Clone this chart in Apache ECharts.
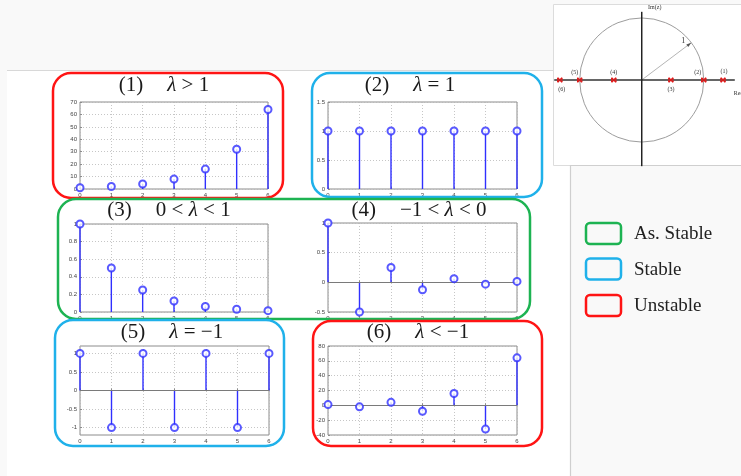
<!DOCTYPE html>
<html>
<head>
<meta charset="utf-8">
<script src="https://cdn.jsdelivr.net/npm/echarts@6/dist/echarts.min.js"></script>
<style>
html,body{margin:0;padding:0;background:#f9f9f9;}
#c{width:741px;height:476px;}
</style>
</head>
<body>
<div id="c"></div>
<script>
// Sample index n for every impulse response x[n] = λ^n
const nIdx = [0, 1, 2, 3, 4, 5, 6];

// Responses for the six cases of λ
const resp1 = [1, 2, 4, 8, 16, 32, 64];                              // λ > 1
const resp2 = [1, 1, 1, 1, 1, 1, 1];                                 // λ = 1
const resp3 = [1, 0.5, 0.25, 0.125, 0.0625, 0.03125, 0.015625];      // 0 < λ < 1
const resp4 = [1, -0.5, 0.25, -0.125, 0.0625, -0.03125, 0.015625];   // -1 < λ < 0
const resp5 = [1, -1, 1, -1, 1, -1, 1];                              // λ = -1
const resp6 = [1, -2, 4, -8, 16, -32, 64];                           // λ < -1

// Y-axis ranges and tick values
const yRange1 = [0, 70];    const yTicks1 = [0, 10, 20, 30, 40, 50, 60, 70];
const yRange2 = [0, 1.5];   const yTicks2 = [0, 0.5, 1, 1.5];
const yRange3 = [0, 1];     const yTicks3 = [0, 0.2, 0.4, 0.6, 0.8, 1];
const yRange4 = [-0.5, 1];  const yTicks4 = [-0.5, 0, 0.5, 1];
const yRange5 = [-1.2, 1.2];const yTicks5 = [-1, -0.5, 0, 0.5, 1];
const yRange6 = [-40, 80];  const yTicks6 = [-40, -20, 0, 20, 40, 60, 80];
const xTicks = [0, 1, 2, 3, 4, 5, 6];

// Panel titles (number, text before λ, relation after λ)
const titleNum = ['(1)', '(2)', '(3)', '(4)', '(5)', '(6)'];
const titlePre = ['', '', '0 < ', '−1 < ', '', ''];
const titlePost = [' > 1', ' = 1', ' < 1', ' < 0', ' = −1', ' < −1'];

// Poles on the real axis of the z-plane, with their labels
const poleRe = [1.31, 1.0, 0.47, -0.45, -1.0, -1.32];
const poleLabel = ['(1)', '(2)', '(3)', '(4)', '(5)', '(6)'];
const radiusAngleDeg = 37;

// Legend entries
const legendNames = ['As. Stable', 'Stable', 'Unstable'];

const RED = '#ff1414', BLUE = '#1fb1ea', GREEN = '#1db352';
const STEM = '#3030ff';

const responses = [resp1, resp2, resp3, resp4, resp5, resp6];
const yRanges = [yRange1, yRange2, yRange3, yRange4, yRange5, yRange6];
const yTickSets = [yTicks1, yTicks2, yTicks3, yTicks4, yTicks5, yTicks6];

// Plot areas and title anchors of the six panels
const panelLayout = [
  { grid: { left: 80,  top: 102, width: 188, height: 87 }, title: [164, 85] },
  { grid: { left: 328, top: 102, width: 189, height: 87 }, title: [410, 85] },
  { grid: { left: 80,  top: 224, width: 188, height: 88 }, title: [169, 210] },
  { grid: { left: 328, top: 223, width: 189, height: 89 }, title: [419, 210] },
  { grid: { left: 80,  top: 346, width: 189, height: 89 }, title: [172, 332] },
  { grid: { left: 328, top: 346, width: 189, height: 89 }, title: [418, 332] }
];

const chart = echarts.init(document.getElementById('c'), null, { renderer: 'canvas' });

const grids = [], xAxes = [], yAxes = [], series = [];
const labelStyle = { fontSize: 6, color: '#444', fontFamily: 'Liberation Sans' };
const gridLine = { show: true, lineStyle: { type: [1, 2], color: '#b8b8b8', width: 0.8 } };

for (let i = 0; i < 6; i++) {
  const L = panelLayout[i].grid;
  grids.push(Object.assign({ show: true, borderColor: '#8c8c8c', borderWidth: 1, backgroundColor: '#fff' }, L));
  xAxes.push({
    gridIndex: i, type: 'value', min: xTicks[0], max: xTicks[xTicks.length - 1], interval: 1,
    axisLine: { show: false },
    axisTick: { show: true, inside: true, length: 2, lineStyle: { color: '#8c8c8c' } },
    axisLabel: Object.assign({ margin: 3 }, labelStyle),
    splitLine: gridLine
  });
  yAxes.push({
    gridIndex: i, type: 'value', min: yRanges[i][0], max: yRanges[i][1],
    axisLine: { show: false },
    axisTick: { show: true, inside: true, length: 2, lineStyle: { color: '#8c8c8c' }, customValues: yTickSets[i] },
    axisLabel: Object.assign({ margin: 3, customValues: yTickSets[i] }, labelStyle),
    splitLine: gridLine
  });
  const pts = nIdx.map((n, k) => [n, responses[i][k]]);
  const hasNeg = yRanges[i][0] < 0;
  series.push({
    type: 'bar', xAxisIndex: i, yAxisIndex: i, data: pts, barWidth: 1.4, silent: true,
    itemStyle: { color: STEM },
    markLine: hasNeg ? {
      silent: true, symbol: 'none', animation: false,
      lineStyle: { color: '#7a7a7a', type: 'solid', width: 1 },
      label: { show: false }, data: [{ yAxis: 0 }]
    } : undefined
  });
  series.push({
    type: 'scatter', xAxisIndex: i, yAxisIndex: i, data: pts, symbol: 'emptyCircle', symbolSize: 7,
    clip: false, silent: true, z: 5,
    itemStyle: { color: STEM, borderColor: STEM, borderWidth: 1.1 }
  });
}

// z-plane diagram: equal scale on both axes (62 px per unit)
grids.push({ left: 553, top: 4, width: 188, height: 161, show: false });
xAxes.push({ gridIndex: 6, type: 'value', min: -1.43, max: 1.60, show: false });
yAxes.push({ gridIndex: 6, type: 'value', min: -1.371, max: 1.226, show: false });

series.push({
  type: 'custom', xAxisIndex: 6, yAxisIndex: 6, data: [[0, 0]], clip: false, silent: true,
  renderItem: function (params, api) {
    const c = api.coord([0, 0]);
    const r = api.size([1, 1])[0];
    const a = radiusAngleDeg * Math.PI / 180;
    const tip = api.coord([Math.cos(a), Math.sin(a)]);
    const left = api.coord([-1.41, 0]), right = api.coord([1.50, 0]);
    const top = api.coord([0, 1.10]), bottom = api.coord([0, -1.39]);
    const ax = Math.cos(a), ay = -Math.sin(a);
    const hx = tip[0] - ax * 5, hy = tip[1] - ay * 5;
    return {
      type: 'group',
      children: [
        { type: 'circle', shape: { cx: c[0], cy: c[1], r: r }, style: { fill: 'none', stroke: '#9d9d9d', lineWidth: 1 } },
        { type: 'line', shape: { x1: c[0], y1: c[1], x2: tip[0], y2: tip[1] }, style: { stroke: '#b5b5b5', lineWidth: 1 } },
        { type: 'polygon', shape: { points: [[tip[0], tip[1]], [hx - ay * 1.6, hy + ax * 1.6], [hx + ay * 1.6, hy - ax * 1.6]] }, style: { fill: '#555' } },
        { type: 'line', shape: { x1: left[0], y1: left[1], x2: right[0], y2: right[1] }, style: { stroke: '#333', lineWidth: 1.5 } },
        { type: 'line', shape: { x1: top[0], y1: top[1], x2: bottom[0], y2: bottom[1] }, style: { stroke: '#222', lineWidth: 1.5 } },
        { type: 'text', x: tip[0] - 8, y: tip[1] - 2, style: { text: '1', font: '8px "Liberation Serif"', fill: '#333', align: 'center', verticalAlign: 'middle' } },
        { type: 'text', x: top[0] + 13, y: 7, style: { text: 'Im(z)', font: '6px "Liberation Serif"', fill: '#333', align: 'center', verticalAlign: 'middle' } },
        { type: 'text', x: right[0] - 1, y: right[1] + 13, style: { text: 'Re(z)', font: '6px "Liberation Serif"', fill: '#333', align: 'left', verticalAlign: 'middle' } }
      ]
    };
  }
});

// Pole markers with their case numbers
const poleLabelOffset = [[1, -9], [-6, -8], [0, 9], [0, -8], [-5, -8], [2, 9]];
series.push({
  type: 'custom', xAxisIndex: 6, yAxisIndex: 6, clip: false, silent: true, z: 6,
  data: poleRe.map((re, k) => [re, 0, k]),
  renderItem: function (params, api) {
    const p = api.coord([api.value(0), api.value(1)]);
    const k = api.value(2);
    const s = 2.2;
    const off = poleLabelOffset[k];
    return {
      type: 'group',
      children: [
        { type: 'line', shape: { x1: p[0] - s, y1: p[1] - s, x2: p[0] + s, y2: p[1] + s }, style: { stroke: '#e01818', lineWidth: 1.4 } },
        { type: 'line', shape: { x1: p[0] - s, y1: p[1] + s, x2: p[0] + s, y2: p[1] - s }, style: { stroke: '#e01818', lineWidth: 1.4 } },
        { type: 'line', shape: { x1: p[0] - s, y1: p[1] - s, x2: p[0] - s, y2: p[1] + s }, style: { stroke: '#e01818', lineWidth: 1 } },
        { type: 'line', shape: { x1: p[0] + s, y1: p[1] - s, x2: p[0] + s, y2: p[1] + s }, style: { stroke: '#e01818', lineWidth: 1 } },
        { type: 'text', x: p[0] + off[0], y: p[1] + off[1], style: { text: poleLabel[k], font: '6px "Liberation Serif"', fill: '#333', align: 'center', verticalAlign: 'middle' } }
      ]
    };
  }
});

// Page backdrop, rounded frames, titles and legend
const graphic = [
  { type: 'rect', z: -10, shape: { x: 7, y: 70, width: 734, height: 406 }, style: { fill: '#fff' } },
  { type: 'line', z: -9, shape: { x1: 7, y1: 70.5, x2: 741, y2: 70.5 }, style: { stroke: '#d8d8d8', lineWidth: 1 } },
  { type: 'rect', z: -9, shape: { x: 553.5, y: 4.5, width: 190, height: 161 }, style: { fill: '#fff', stroke: '#dcdcdc', lineWidth: 1 } },
  { type: 'rect', z: -8, shape: { x: 570.5, y: 165.5, width: 172, height: 312 }, style: { fill: '#f9f9f9', stroke: '#cfcfcf', lineWidth: 1.2 } },
  { type: 'rect', z: 20, shape: { x: 53, y: 73, width: 230, height: 125, r: 18 }, style: { fill: 'none', stroke: RED, lineWidth: 2.5 } },
  { type: 'rect', z: 20, shape: { x: 312, y: 73, width: 230, height: 124, r: 18 }, style: { fill: 'none', stroke: BLUE, lineWidth: 2.5 } },
  { type: 'rect', z: 20, shape: { x: 58, y: 199, width: 472, height: 120, r: 18 }, style: { fill: 'none', stroke: GREEN, lineWidth: 2.5 } },
  { type: 'rect', z: 20, shape: { x: 55, y: 320, width: 229, height: 126, r: 18 }, style: { fill: 'none', stroke: BLUE, lineWidth: 2.5 } },
  { type: 'rect', z: 20, shape: { x: 313, y: 321, width: 229, height: 125, r: 18 }, style: { fill: 'none', stroke: RED, lineWidth: 2.5 } }
];

const serif = '"Liberation Serif", "DejaVu Serif", serif';
for (let i = 0; i < 6; i++) {
  const t = panelLayout[i].title;
  graphic.push({
    type: 'text', z: 21, x: t[0], y: t[1],
    style: {
      text: '{n|' + titleNum[i] + '}{g| }{n|' + titlePre[i] + '}{m|λ}{n|' + titlePost[i] + '}',
      align: 'center', verticalAlign: 'middle',
      rich: {
        n: { fontFamily: serif, fontSize: 21, fill: '#1a1a1a' },
        m: { fontFamily: serif, fontSize: 21, fontStyle: 'italic', fill: '#1a1a1a' },
        g: { fontFamily: serif, fontSize: 21, width: 24 }
      }
    }
  });
}

const legendColors = [GREEN, BLUE, RED];
const legendY = [233.5, 269, 305.5];
for (let k = 0; k < 3; k++) {
  graphic.push({ type: 'rect', z: 20, shape: { x: 586, y: legendY[k] - 10.5, width: 35, height: 21, r: 4 }, style: { fill: 'none', stroke: legendColors[k], lineWidth: 2.5 } });
  graphic.push({ type: 'text', z: 20, x: 634, y: legendY[k] + 1, style: { text: legendNames[k], font: '19px ' + serif, fill: '#222', verticalAlign: 'middle' } });
}

chart.setOption({
  backgroundColor: '#f9f9f9',
  animation: false,
  grid: grids,
  xAxis: xAxes,
  yAxis: yAxes,
  series: series,
  graphic: graphic
});
</script>
</body>
</html>
